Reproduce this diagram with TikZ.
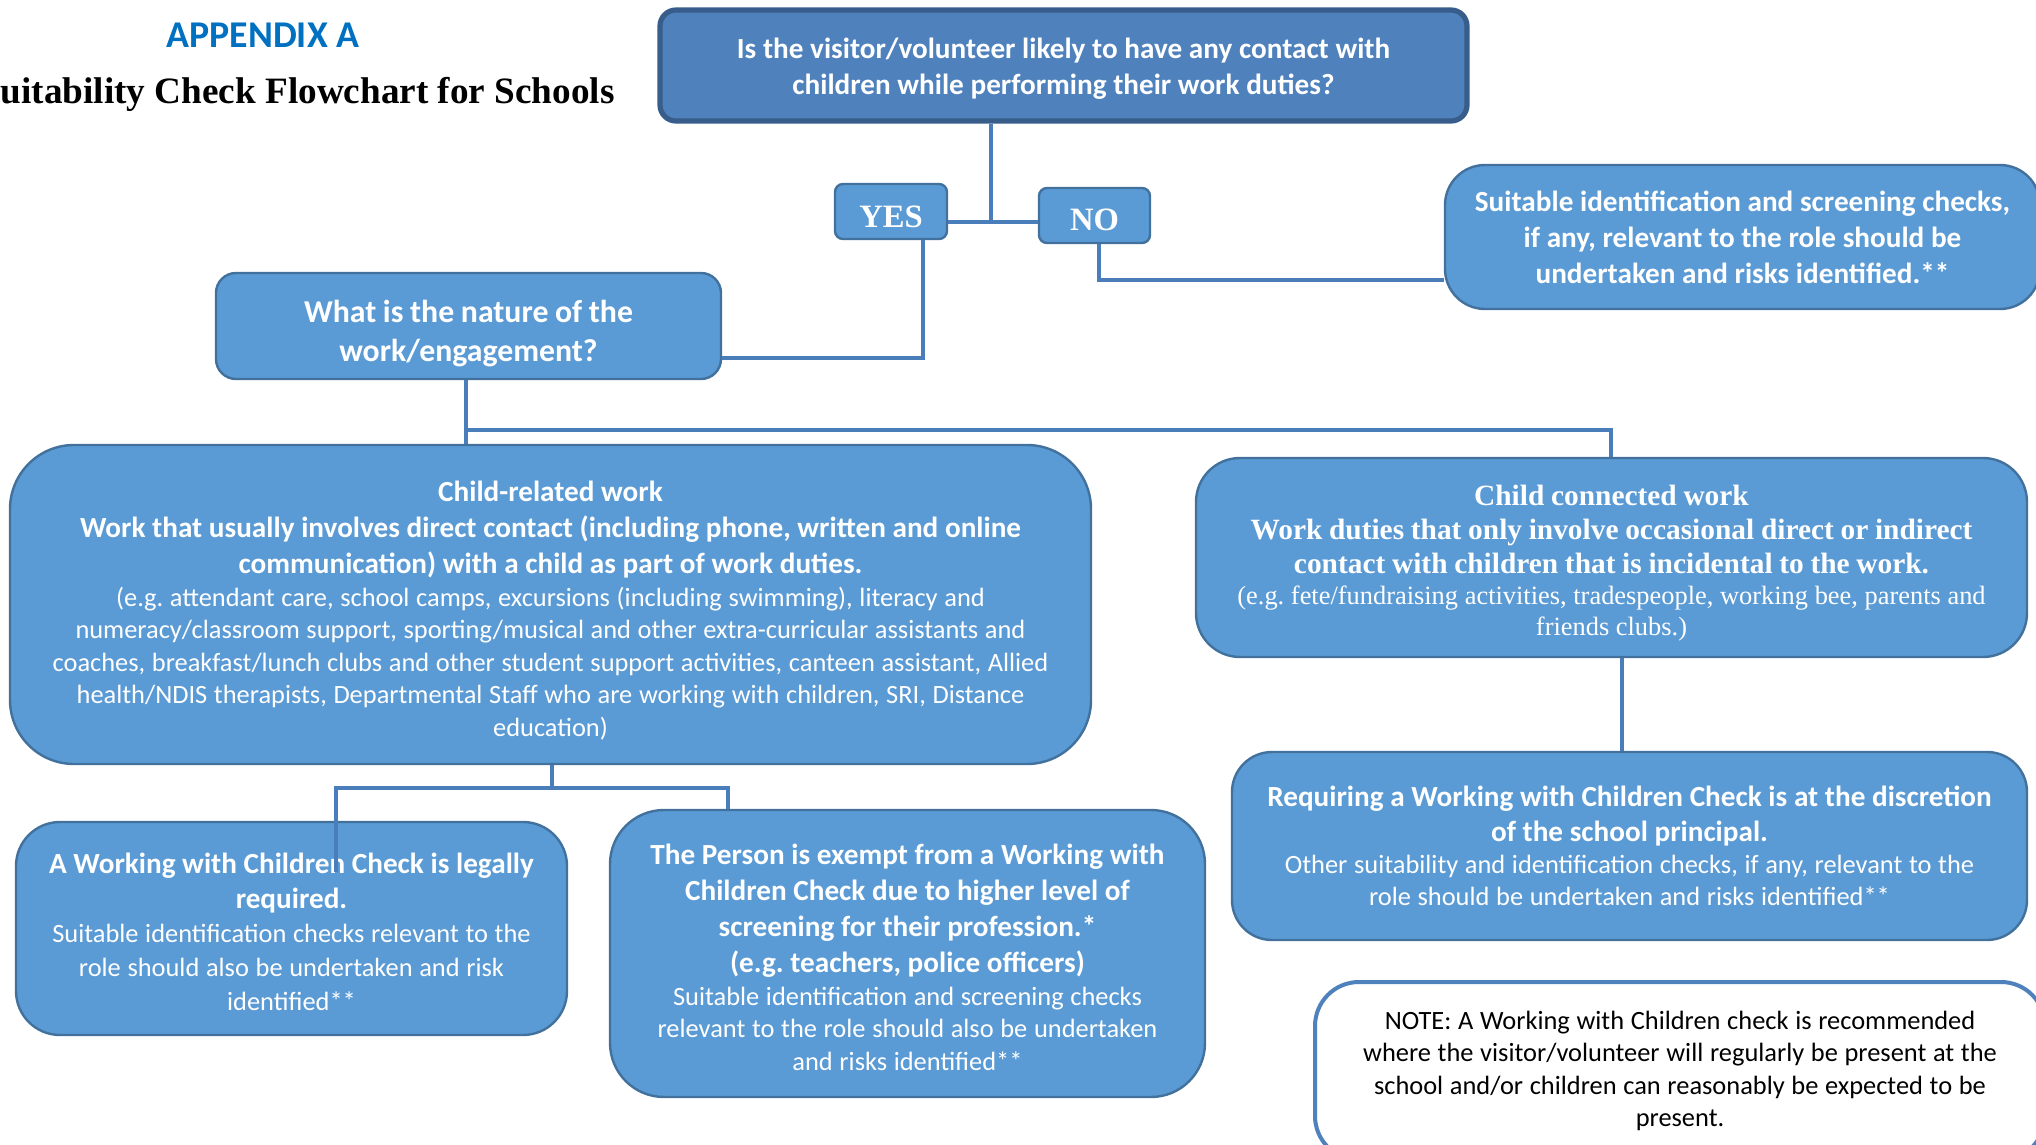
\documentclass[tikz,border=0pt]{standalone}
\usepackage{fontspec}
\setmainfont{Carlito}
\newfontfamily\tnr{Liberation Serif}
\frenchspacing
\definecolor{boxfill}{HTML}{5B9BD5}
\definecolor{boxline}{HTML}{41719C}
\definecolor{topfill}{HTML}{4F81BD}
\definecolor{topline}{HTML}{385D8A}
\definecolor{connc}{HTML}{4A7EBB}
\definecolor{appblue}{HTML}{0070C0}
\newcommand\Bf[2]{\fontsize{#1}{#2}\selectfont\bfseries}
\newcommand\Rg[2]{\fontsize{#1}{#2}\selectfont\mdseries}
\newcommand\up[1]{\rule{0pt}{#1}}
\tikzset{
  bx/.style={draw=boxline, fill=boxfill, line width=1.2pt, text=white, align=center, inner sep=0pt},
  conn/.style={draw=connc, line width=1.6pt},
}
\begin{document}
\begin{tikzpicture}[x=0.5pt,y=-0.5pt]
\useasboundingbox (0,0) rectangle (2036,1145);
% titles
\node[text=appblue, font=\Bf{18.9}{22}] (app) at (263,35) {APPENDIX A};
\node[anchor=east, font=\tnr\Bf{18.6}{22}, inner sep=0pt] (title) at (615,94) {uitability Check Flowchart for Schools};
% boxes
\node[bx, draw=topline, fill=topfill, line width=2.6pt, rounded corners=8pt, minimum width=403.5pt, minimum height=55.5pt, text width=400pt] (top) at (1063.5,65.5)
 {\Bf{14.6}{18}\up{13.6pt}Is the visitor/volunteer likely to have any contact with\\children while performing their work duties?\par};
\node[bx, rounded corners=4pt, minimum width=56pt, minimum height=27.5pt, font=\tnr\Bf{16.3}{18}] (yes) at (891,211.5) {\rule{0pt}{16pt}YES};
\node[bx, rounded corners=4pt, minimum width=55.5pt, minimum height=27.5pt, font=\tnr\Bf{16.3}{18}] (no) at (1094.5,215.5) {\rule{0pt}{15pt}NO};
\node[bx, rounded corners=20pt, minimum width=297.5pt, minimum height=72pt, text width=290pt] (rbox) at (1742.5,237)
 {\Bf{14.6}{18}Suitable identification and screening checks,\\if any, relevant to the role should be\\undertaken and risks identified.**\par};
\node[bx, rounded corners=10pt, minimum width=252.5pt, minimum height=53pt, text width=245pt] (what) at (468.5,326)
 {\Bf{15.9}{19.5}\up{18.5pt}What is the nature of the\\work/engagement?\par};
\node[bx, rounded corners=32pt, minimum width=540.5pt, minimum height=159.5pt, text width=535pt] (cr) at (550.5,604.5)
 {{\Bf{14.6}{18}\up{16.2pt}Child-related work\\Work that usually involves direct contact (including phone, written and online\\communication) with a child as part of work duties.\par}%
  {\Rg{13.2}{16.25}(e.g. attendant care, school camps, excursions (including swimming), literacy and\\numeracy/classroom support, sporting/musical and other extra-curricular assistants and\\coaches, breakfast/lunch clubs and other student support activities, canteen assistant, Allied\\health/NDIS therapists, Departmental Staff who are working with children, SRI, Distance\\education)\par}};
\node[bx, rounded corners=22pt, minimum width=415.5pt, minimum height=99.5pt, text width=410pt] (cc) at (1611.5,557.5)
 {{\tnr\Bf{14.7}{17}\up{16pt}Child connected work\\Work duties that only involve occasional direct or indirect\\contact with children that is incidental to the work.\par}%
  {\tnr\Rg{13.2}{15.5}(e.g. fete/fundraising activities, tradespeople, working bee, parents and\\friends clubs.)\par}};
\node[bx, rounded corners=22pt, minimum width=275.5pt, minimum height=106.5pt, text width=270pt] (wwcc) at (291.5,928.5)
 {{\Bf{14.6}{17.5}\up{13.6pt}A Working with Children Check is legally\\required.\par}%
  {\Rg{13.2}{17}Suitable identification checks relevant to the\\role should also be undertaken and risk\\identified**\par}};
\node[bx, rounded corners=27pt, minimum width=297.5pt, minimum height=143.5pt, text width=292pt] (ex) at (907.5,953.5)
 {{\Bf{14.6}{18}\up{14.2pt}The Person is exempt from a Working with\\Children Check due to higher level of\\screening for their profession.*\\(e.g. teachers, police officers)\par}%
  {\Rg{13.2}{16.25}Suitable identification and screening checks\\relevant to the role should also be undertaken\\and risks identified**\par}};
\node[bx, rounded corners=20pt, minimum width=397.5pt, minimum height=94pt, text width=392pt] (req) at (1629.5,846)
 {{\Bf{14.6}{17.5}Requiring a Working with Children Check is at the discretion\\of the school principal.\par}%
  {\Rg{13.2}{16}Other suitability and identification checks, if any, relevant to the\\role should be undertaken and risks identified**\par}};
\node[bx, draw=topfill, fill=white, text=black, line width=2pt, rounded corners=22pt, minimum width=365pt, minimum height=89pt, text width=360pt] (note) at (1680,1071)
 {\Rg{13.2}{16.25}NOTE: A Working with Children check is recommended\\where the visitor/volunteer will regularly be present at the\\school and/or children can reasonably be expected to be\\present.\par};
% junctions
\coordinate (j1) at (991,222);
\coordinate (c1) at (923,358);
\coordinate (c2) at (1099,280);
\coordinate (c3) at (466,430);
\coordinate (c4) at (1611,430);
\coordinate (c5) at (1622,700);
\coordinate (c6) at (552,788);
\coordinate (c7) at (336,788);
\coordinate (c8) at (728,788);
\coordinate (c9) at (336,872);
% connectors
\draw[conn] (top.south -| j1) -- (j1);
\draw[conn] (yes.east |- j1) -- (no.west |- j1);
\draw[conn] (yes.south -| c1) -- (c1) -- (what.east |- c1);
\draw[conn] (no.south -| c2) -- (c2) -- (rbox.west |- c2);
\draw[conn] (what.south -| c3) -- (cr.north -| c3);
\draw[conn] (c3) -- (c4) -- (cc.north -| c4);
\draw[conn] (cc.south -| c5) -- (req.north -| c5);
\draw[conn] (cr.south -| c6) -- (c6);
\draw[conn] (c9) -- (c7) -- (c8) -- (ex.north -| c8);
\end{tikzpicture}
\end{document}
